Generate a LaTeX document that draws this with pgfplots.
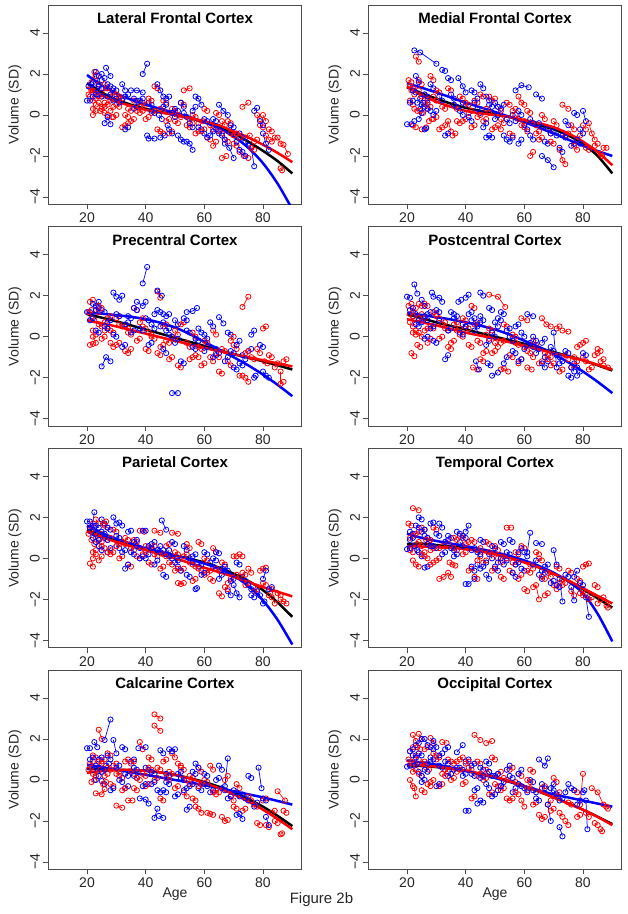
\documentclass[border=0pt]{standalone}
\usepackage{fontspec}
\setmainfont{Liberation Sans}
\usepackage{pgfplots}
\pgfplotsset{compat=1.18}
\definecolor{rR}{RGB}{255,0,0}
\definecolor{bB}{RGB}{0,0,255}
\pgfplotsset{
 panel/.style={scale only axis, width=253.4pt, height=199.3pt,
  xmin=6.8, xmax=93.2, ymin=-4.36, ymax=5.36,
  xtick={20,40,60,80}, xticklabels={20,40,60,80},
  ytick={-4,-2,0,2,4}, yticklabels={−4,−2,0,2,4},
  xtick pos=left, ytick pos=left,
  tick align=outside, major tick length=5pt,
  axis line style={black!70, line width=0.8pt},
  every tick/.style={black!70, line width=0.8pt},
  tick label style={font=\fontsize{14}{16}\selectfont, text=black!85},
  yticklabel style={rotate=90, anchor=south},
  ylabel={Volume (SD)},
  every axis y label/.style={at={(axis description cs:-0.1315,0.5)}, rotate=90, anchor=center, font=\fontsize{14}{16}\selectfont, text=black!85},
  every axis x label/.style={at={(axis description cs:0.5,-0.1254)}, anchor=center, font=\fontsize{14}{16}\selectfont, text=black!85},
  every axis title/.style={at={(axis description cs:0.5,1)}, anchor=north, inner sep=0pt, yshift=-7.5pt, font=\bfseries\fontsize{15}{18}\selectfont},
  unbounded coords=jump, clip=true, anchor=south west},
 dat/.style={mark=o, mark size=2.6pt, line width=0.7pt, mark options={line width=0.8pt}},
 fit/.style={line width=2.5pt, smooth, no markers}
}
\begin{document}
\begin{tikzpicture}
\path[use as bounding box] (0,0) rectangle (628pt,914pt);
% ---------- Panel 1 ----------
\begin{axis}[panel, at={(48.3pt,709.6pt)}, title={Lateral Frontal Cortex}]
\addplot[rR,dat] coordinates {(21,0.9)(22,0.7)(nan,nan)(21.5,1.6)(22.5,2.1)(nan,nan)(22,0.3)(23,0.5)(nan,nan)(23,1.9)(24,1.5)(nan,nan)(22,1.2)(23.5,1.0)(25,0.9)(nan,nan)(24,0.6)(25,0.4)(nan,nan)(24.5,0.2)(26,0.1)(nan,nan)(25,1.1)(26.5,1.3)(nan,nan)(26,0.6)(27,0.5)(28,0.7)(nan,nan)(27,0.0)(28.5,-0.1)(nan,nan)(28,0.9)(29,1.1)(nan,nan)(29,-0.1)(30,0.0)(nan,nan)(30,0.5)(31,0.4)(nan,nan)(31,0.9)(32,0.8)(nan,nan)(32,-0.6)(33,-0.5)(34,-0.4)(nan,nan)(34,0.3)(35,0.2)(nan,nan)(35,-0.3)(36,-0.2)(nan,nan)(36,0.7)(37.5,0.6)(nan,nan)(38,0.1)(39,0.2)(nan,nan)(39,0.6)(40,0.5)(nan,nan)(40,-0.2)(41,-0.1)(nan,nan)(42,0.1)(43,0.2)(nan,nan)(43,1.4)(44,1.3)(nan,nan)(44,-0.7)(45,-0.8)(46,-0.9)(nan,nan)(46,0.7)(47,0.6)(nan,nan)(48,-0.9)(49,-0.8)(nan,nan)(49,0.3)(50,0.2)(nan,nan)(50,-0.3)(51,-0.4)(nan,nan)(52,0.6)(53,0.5)(nan,nan)(53,1.2)(55,1.3)(nan,nan)(54,-0.5)(55,-0.6)(nan,nan)(56,0.0)(57,-0.1)(nan,nan)(57,-0.9)(58,-0.8)(nan,nan)(58,-0.4)(59.5,-0.3)(nan,nan)(60,0.3)(61,0.2)(nan,nan)(61,-1.1)(62,-1.2)(nan,nan)(62,-0.5)(63,-0.7)(nan,nan)(63,-1.5)(64,-1.3)(nan,nan)(64,0.1)(65,0.0)(nan,nan)(65,-0.8)(66,-0.9)(nan,nan)(66,-2.1)(67.5,-2.0)(nan,nan)(67,-1.2)(68,-1.3)(nan,nan)(68,-0.3)(69,-0.4)(nan,nan)(69,-0.9)(70,-1.0)(nan,nan)(70,-1.4)(71,-1.5)(nan,nan)(72,-1.8)(73.5,-2.0)(75,-2.1)(nan,nan)(73,0.4)(75,0.6)(nan,nan)(74,-1.1)(75.5,-1.0)(nan,nan)(77,-1.3)(78,-1.2)(nan,nan)(78,0.0)(79,-0.2)(nan,nan)(79,-0.5)(80,-0.6)(nan,nan)(80,0.0)(81,-0.3)(nan,nan)(81,-1.0)(82,-1.2)(nan,nan)(82,-0.7)(83,-0.8)(nan,nan)(83,-1.3)(84,-1.1)(nan,nan)(85,-1.1)(86,-1.4)(nan,nan)(86,-2.6)(86.5,-2.7)(nan,nan)(87,-1.45)(88.5,-1.9)};
\addplot[bB,dat] coordinates {(20,0.7)(21,0.7)(nan,nan)(22,1.6)(23,2.1)(nan,nan)(23,1.3)(24,1.9)(25,2.0)(nan,nan)(24,1.0)(25,0.9)(nan,nan)(25,1.7)(26,1.8)(nan,nan)(26,-0.4)(27,-0.1)(28,-0.45)(nan,nan)(26.5,2.3)(28,1.9)(nan,nan)(27,0.9)(28,1.0)(nan,nan)(29,1.3)(30,1.2)(nan,nan)(31,0.6)(32,0.7)(nan,nan)(32,1.5)(33,1.2)(nan,nan)(33,-0.7)(34,-0.6)(nan,nan)(35,1.2)(37,1.2)(39,1.1)(nan,nan)(36,0.3)(37,0.4)(nan,nan)(38,0.7)(39,0.8)(nan,nan)(39,2.0)(40.5,2.5)(nan,nan)(40.5,-1.0)(41,-1.15)(43,-1.15)(nan,nan)(41,0.6)(42,0.5)(nan,nan)(44,1.5)(45,1.2)(46,0.9)(nan,nan)(44.5,0.0)(45.5,-0.2)(nan,nan)(45,-1.1)(46.5,-1.0)(nan,nan)(47,0.8)(48,0.9)(nan,nan)(47.5,-0.5)(48,-0.7)(49,-0.9)(nan,nan)(50,0.3)(51,0.2)(nan,nan)(51,-1.0)(52,-1.2)(53,-1.3)(nan,nan)(53,0.1)(54,-0.1)(nan,nan)(54,-1.3)(55,-1.4)(56,-1.7)(nan,nan)(56,0.2)(57,0.4)(nan,nan)(57,0.9)(58,0.8)(59,0.5)(nan,nan)(58,-0.6)(59,-0.7)(nan,nan)(60,-0.2)(61,-0.3)(nan,nan)(62,-1.0)(63,-0.8)(nan,nan)(64,-0.7)(65,-0.9)(nan,nan)(65,0.5)(66.5,0.2)(68,0.0)(nan,nan)(67,-1.4)(68.5,-1.6)(70,-2.1)(nan,nan)(69,-0.5)(70,-0.6)(nan,nan)(71,-1.3)(72,-1.7)(nan,nan)(72,-0.9)(73,-1.1)(nan,nan)(74,-1.3)(75,-1.5)(nan,nan)(76,-1.6)(77,-2.5)(nan,nan)(77,0.2)(78,0.35)(nan,nan)(79,-0.3)(80,-0.5)(nan,nan)(80,-0.9)(81,-1.4)(82,-1.7)};
\addplot[rR,dat] coordinates {(20.5,1.0)(21.5,1.2)(nan,nan)(22,0.0)(23,0.2)(nan,nan)(23,0.8)(24,0.9)(nan,nan)(25,0.3)(26,0.4)(nan,nan)(26,1.5)(27,1.3)(nan,nan)(28,0.2)(29,0.4)(nan,nan)(30,1.0)(31,0.8)(nan,nan)(33,0.0)(34,-0.1)(nan,nan)(37,0.2)(38,0.4)(nan,nan)(41,0.8)(42,0.7)(nan,nan)(45,0.3)(46,0.2)(nan,nan)(47,-0.3)(48,-0.2)(nan,nan)(51,0.0)(52,-0.1)(nan,nan)(55,-0.2)(56,-0.4)(nan,nan)(59,-0.8)(60,-0.7)(nan,nan)(66,-0.3)(67,-0.5)(nan,nan)(71,-0.9)(72,-1.1)(nan,nan)(76,-1.6)(77,-1.7)};
\addplot[bB,dat] coordinates {(20.5,1.4)(21.5,1.5)(nan,nan)(22,0.9)(23,1.0)(nan,nan)(24,1.4)(25,1.3)(nan,nan)(27,1.5)(28,1.4)(nan,nan)(29,0.7)(30,0.8)(nan,nan)(33,0.9)(34,1.0)(nan,nan)(36,0.8)(37,0.7)(nan,nan)(42,0.2)(43,0.1)(nan,nan)(46,0.4)(47,0.5)(nan,nan)(49,0.1)(50,-0.1)(nan,nan)(52,0.6)(53,0.4)(nan,nan)(55,-0.4)(56,-0.6)(nan,nan)(60,-0.9)(61,-1.1)(nan,nan)(63,-0.2)(64,-0.3)(nan,nan)(66,-1.0)(67,-1.2)(nan,nan)(73,-1.8)(74,-2.0)};
\addplot[black,fit] coordinates {(20,1.55)(25,1.1)(30,0.75)(35,0.5)(40,0.3)(45,0.15)(50,0.0)(55,-0.15)(60,-0.35)(65,-0.6)(70,-0.9)(75,-1.3)(80,-1.75)(85,-2.25)(90,-2.85)};
\addplot[bB,fit] coordinates {(20,1.95)(25,1.45)(30,1.05)(35,0.75)(40,0.5)(45,0.3)(50,0.1)(55,-0.1)(60,-0.35)(65,-0.65)(70,-1.05)(75,-1.6)(80,-2.35)(85,-3.35)(90,-4.6)};
\addplot[rR,fit] coordinates {(20,1.35)(25,0.95)(30,0.65)(35,0.45)(40,0.25)(45,0.12)(50,0.0)(55,-0.15)(60,-0.3)(65,-0.5)(70,-0.8)(75,-1.1)(80,-1.45)(85,-1.85)(90,-2.3)};
\end{axis}
% ---------- Panel 2 ----------
\begin{axis}[panel, at={(368.3pt,709.6pt)}, title={Medial Frontal Cortex}]
\addplot[rR,dat] coordinates {(20.5,1.7)(21.5,1.6)(nan,nan)(21,0.7)(22,0.5)(nan,nan)(21.5,1.2)(22.5,1.0)(nan,nan)(22,-0.5)(23,-0.6)(nan,nan)(23,2.85)(24,2.6)(nan,nan)(24,1.7)(25,1.5)(nan,nan)(24.5,0.2)(25.5,0.1)(nan,nan)(25,-0.7)(26.5,-0.6)(nan,nan)(26,1.0)(27,0.8)(nan,nan)(27,0.3)(28,0.4)(nan,nan)(28,1.9)(29,1.7)(nan,nan)(29,-0.2)(30,-0.1)(nan,nan)(30,1.2)(31,1.1)(nan,nan)(31,-0.7)(32,-0.6)(nan,nan)(33,-0.5)(34,-0.3)(35,-0.8)(nan,nan)(34,1.3)(35,1.2)(nan,nan)(35.5,-1.0)(36.5,-0.9)(nan,nan)(36,0.5)(37,0.3)(nan,nan)(38,0.9)(39,0.8)(nan,nan)(39,-0.3)(40,-0.2)(nan,nan)(41,0.1)(42,0.2)(nan,nan)(42,-0.6)(43,-0.5)(nan,nan)(43,0.7)(44,0.6)(nan,nan)(45,1.0)(46,0.9)(nan,nan)(46,-0.3)(47,-0.2)(nan,nan)(48,0.9)(49,0.7)(50,0.8)(nan,nan)(49,-0.7)(50,-0.6)(nan,nan)(51,0.4)(52,0.2)(nan,nan)(52,-0.2)(53,-0.4)(nan,nan)(54,0.6)(55,0.5)(nan,nan)(55,-0.9)(56,-1.0)(nan,nan)(57,0.0)(58,-0.2)(nan,nan)(58,0.9)(59,0.6)(60,0.5)(nan,nan)(60,-0.6)(61,-0.8)(nan,nan)(61,0.2)(62,0.1)(nan,nan)(62,-2.0)(63,-1.8)(nan,nan)(63,-0.4)(64,-0.5)(nan,nan)(65,-1.2)(66,-1.1)(nan,nan)(66,0.0)(67,-0.2)(nan,nan)(68,-0.7)(69,-0.9)(nan,nan)(70,-0.3)(71,-0.5)(nan,nan)(72,-1.7)(73,-2.2)(74,-2.4)(nan,nan)(73,0.5)(75,0.3)(nan,nan)(74,-1.0)(75,-0.9)(nan,nan)(76,-0.5)(77,-0.7)(nan,nan)(78,-1.2)(79,-1.0)(nan,nan)(80,-0.5)(81,-0.7)(nan,nan)(81,-1.6)(82,-1.7)(nan,nan)(82,-0.4)(83,-0.9)(84,-1.2)(nan,nan)(84,-1.5)(85,-1.4)(nan,nan)(86,-1.9)(86.5,-2.0)(nan,nan)(87,-1.6)(88,-1.6)};
\addplot[bB,dat] coordinates {(20,-0.45)(21.5,-0.45)(22.5,-0.3)(nan,nan)(22.5,3.15)(24.5,3.05)(30,2.5)(nan,nan)(23,1.9)(24,1.6)(nan,nan)(23.5,0.6)(24.5,0.8)(nan,nan)(24,-0.2)(25,0.1)(nan,nan)(25,0.5)(26,0.4)(27,0.6)(nan,nan)(26,-0.7)(26.5,-0.65)(nan,nan)(27,0.3)(28,0.2)(nan,nan)(28,1.5)(29,1.3)(nan,nan)(31,0.9)(32,0.7)(nan,nan)(32,2.2)(33,2.15)(nan,nan)(33,-1.0)(34,-0.9)(nan,nan)(34,1.8)(35,1.7)(nan,nan)(36,0.5)(37,0.4)(nan,nan)(37.5,1.8)(39,1.4)(40,1.1)(nan,nan)(39,0.6)(40,0.5)(nan,nan)(41,-0.1)(42,-0.3)(nan,nan)(42,1.2)(43,1.1)(nan,nan)(44,0.3)(45,0.1)(nan,nan)(45,1.5)(46,1.3)(nan,nan)(46,-0.6)(47,-0.4)(nan,nan)(47,-1.1)(48,-1.0)(49,-1.1)(nan,nan)(48,0.5)(49,0.4)(nan,nan)(50,-0.2)(51,0.0)(nan,nan)(52,0.3)(53,0.5)(nan,nan)(53,-1.0)(54,-1.2)(nan,nan)(55,-1.3)(56,-1.1)(nan,nan)(56,0.0)(57,-0.3)(nan,nan)(57,1.2)(59,1.45)(61.5,1.35)(nan,nan)(58,-1.4)(59,-1.2)(nan,nan)(60,-0.5)(61,-0.7)(nan,nan)(62,-1.0)(63,-1.2)(nan,nan)(64,1.0)(66,0.8)(nan,nan)(65,-0.4)(66,-0.6)(nan,nan)(66,-2.0)(68,-2.2)(70,-2.55)(nan,nan)(67,-1.3)(68,-1.4)(nan,nan)(70,-0.8)(71,-1.0)(nan,nan)(72,-1.6)(73,-1.8)(nan,nan)(74,-0.3)(75,-0.5)(nan,nan)(76,-1.5)(77,-1.4)(nan,nan)(77,0.1)(78,0.0)(nan,nan)(79,-0.7)(80,-0.9)(nan,nan)(80,0.2)(81,-0.3)};
\addplot[rR,dat] coordinates {(21,1.4)(22,1.3)(nan,nan)(22.5,0.3)(23.5,0.2)(nan,nan)(24,1.2)(25,0.9)(nan,nan)(26,0.6)(27,0.5)(nan,nan)(27.5,-0.3)(28.5,-0.2)(nan,nan)(29,0.9)(30,0.7)(nan,nan)(32,0.4)(33,0.3)(nan,nan)(37,-0.3)(38,-0.4)(nan,nan)(40,0.6)(41,0.5)(nan,nan)(44,-0.1)(45,0.0)(nan,nan)(47,0.3)(48,0.1)(nan,nan)(51,-0.5)(52,-0.7)(nan,nan)(56,0.2)(57,0.3)(nan,nan)(59,-0.5)(60,-0.3)(nan,nan)(64,-0.9)(65,-0.8)(nan,nan)(69,-1.3)(70,-1.4)(nan,nan)(77,-1.5)(78,-1.7)};
\addplot[bB,dat] coordinates {(21,0.6)(22,0.7)(nan,nan)(22,1.2)(23,1.1)(nan,nan)(24.5,0.3)(25.5,0.6)(nan,nan)(26,1.0)(27,0.9)(nan,nan)(29,0.0)(30,0.2)(nan,nan)(35,1.0)(36,0.8)(nan,nan)(38,0.2)(39,0.0)(nan,nan)(43,0.6)(44,0.8)(nan,nan)(47,0.9)(48,0.7)(nan,nan)(50,0.6)(51,0.4)(nan,nan)(54,-0.2)(55,-0.4)(nan,nan)(58,0.2)(59,0.0)(nan,nan)(62,-0.2)(63,-0.4)(nan,nan)(68,-0.7)(69,-0.9)(nan,nan)(73,-1.0)(74,-1.1)(nan,nan)(78,-1.2)(79,-1.4)};
\addplot[black,fit] coordinates {(20,1.35)(25,1.05)(30,0.8)(35,0.55)(40,0.35)(45,0.2)(50,0.05)(55,-0.1)(60,-0.3)(65,-0.5)(70,-0.7)(75,-1.0)(80,-1.4)(85,-2.0)(90,-2.85)};
\addplot[bB,fit] coordinates {(20,1.55)(30,1.1)(40,0.6)(50,0.15)(60,-0.35)(70,-0.9)(80,-1.5)(90,-2.0)};
\addplot[rR,fit] coordinates {(20,1.4)(25,0.95)(30,0.65)(35,0.4)(40,0.2)(45,0.08)(50,0.0)(55,-0.1)(60,-0.25)(65,-0.4)(70,-0.6)(75,-0.9)(80,-1.3)(85,-1.8)(90,-2.45)};
\end{axis}
% ---------- Panel 3 ----------
\begin{axis}[panel, at={(48.3pt,487.9pt)}, title={Precentral Cortex}]
\addplot[rR,dat] coordinates {(21,1.7)(22,1.8)(nan,nan)(21,-0.4)(22,-0.35)(nan,nan)(21.5,0.9)(22.5,0.8)(nan,nan)(22,0.3)(23,0.1)(nan,nan)(23,1.3)(24,1.2)(nan,nan)(24,0.6)(25,0.5)(26,0.7)(nan,nan)(25,-0.1)(26,0.0)(nan,nan)(27,0.9)(28,1.0)(nan,nan)(28,0.3)(29,0.2)(nan,nan)(30,-0.4)(31,-0.3)(nan,nan)(31,0.6)(32,0.5)(nan,nan)(33,-0.7)(34,-0.8)(35,-0.6)(nan,nan)(34,0.2)(35,0.1)(nan,nan)(36,1.4)(37,1.3)(nan,nan)(37,-0.2)(38,-0.1)(nan,nan)(39,0.5)(40,0.4)(nan,nan)(40,-0.6)(41,-0.7)(nan,nan)(42,0.0)(43,-0.1)(nan,nan)(44,2.2)(45,1.9)(nan,nan)(45,-0.5)(46,-0.4)(nan,nan)(46,0.5)(47,0.6)(nan,nan)(48,-1.1)(49,-1.0)(nan,nan)(49,0.0)(50,-0.1)(nan,nan)(51,-1.4)(52,-1.5)(nan,nan)(52,0.6)(53,0.7)(nan,nan)(54,-0.3)(55,-0.5)(nan,nan)(56,0.2)(57,0.0)(nan,nan)(57,-0.9)(58,-1.0)(nan,nan)(59,-1.4)(60,-1.3)(nan,nan)(60,-0.2)(61,-0.3)(nan,nan)(62,-1.0)(63,-1.2)(nan,nan)(63,0.3)(64,0.1)(nan,nan)(65,-1.7)(66,-1.8)(nan,nan)(66,-0.6)(67,-0.7)(nan,nan)(68,-1.2)(69,-1.4)(nan,nan)(70,-0.4)(71,-0.6)(nan,nan)(72,-1.9)(73,-1.9)(nan,nan)(73,1.45)(75,1.95)(nan,nan)(74,-2.0)(75,-2.2)(nan,nan)(76,-1.0)(77,-1.1)(nan,nan)(78,-0.6)(79,-0.8)(nan,nan)(80,0.4)(81,0.5)(nan,nan)(80.5,-1.2)(81.5,-1.3)(nan,nan)(82,-0.9)(83,-1.0)(nan,nan)(84,-1.5)(85,-1.3)(nan,nan)(86,-1.7)(86,-2.3)(87,-2.2)(nan,nan)(87,-1.2)(88,-1.1)};
\addplot[bB,dat] coordinates {(20,1.2)(21,1.2)(nan,nan)(22,1.6)(23,1.5)(24,1.7)(nan,nan)(23,0.3)(24,0.2)(nan,nan)(25,-1.45)(26.5,-1.0)(28,-1.2)(nan,nan)(25,1.3)(26,1.2)(nan,nan)(27,0.7)(28,0.8)(nan,nan)(29,2.15)(30,1.95)(nan,nan)(31,1.8)(32,2.0)(nan,nan)(29,0.1)(30,0.0)(nan,nan)(32,-0.5)(33,-0.4)(nan,nan)(34,1.0)(35,0.9)(nan,nan)(35,0.2)(36,0.3)(nan,nan)(37,1.7)(39,1.5)(40,1.7)(nan,nan)(39,2.6)(40.5,3.4)(nan,nan)(40,0.9)(41,0.8)(nan,nan)(41,-0.4)(42,-0.3)(nan,nan)(43,1.1)(44,1.3)(nan,nan)(44,2.25)(45.5,2.0)(nan,nan)(45,0.5)(46,0.7)(nan,nan)(46,-0.6)(47,-0.8)(nan,nan)(47,1.0)(48,1.1)(nan,nan)(48,0.1)(49,0.0)(nan,nan)(49,-2.75)(51,-2.75)(nan,nan)(50,0.8)(51,0.6)(nan,nan)(52,-1.2)(53,-1.3)(nan,nan)(54,1.2)(56,1.25)(57.5,1.4)(nan,nan)(54,0.3)(55,0.2)(nan,nan)(56,-0.5)(57,-0.6)(nan,nan)(58,0.4)(59,0.2)(nan,nan)(60,-0.7)(61,-0.5)(nan,nan)(62,0.7)(63,0.5)(nan,nan)(64,-0.6)(65,-0.8)(nan,nan)(65,0.95)(66.5,0.65)(nan,nan)(67,-1.2)(68,-1.0)(nan,nan)(68,0.2)(69,0.1)(nan,nan)(70,-1.5)(71,-1.6)(nan,nan)(71,-0.4)(72,-0.2)(nan,nan)(73,-0.9)(74,-1.1)(nan,nan)(75,-0.7)(76,-0.6)(nan,nan)(76,0.1)(77,0.3)(nan,nan)(77,-2.0)(77.5,-1.9)(nan,nan)(79,-0.4)(80,-0.5)(nan,nan)(80,-1.7)(81,-1.9)(82,-2.0)};
\addplot[rR,dat] coordinates {(20.5,1.2)(21.5,1.3)(nan,nan)(22,0.0)(23,-0.3)(nan,nan)(24,1.5)(25,1.4)(nan,nan)(26,0.3)(27,0.4)(nan,nan)(28,-0.3)(29,-0.5)(nan,nan)(30,0.9)(31,1.0)(nan,nan)(33,0.5)(34,0.4)(nan,nan)(38,0.7)(39,0.9)(nan,nan)(41,0.2)(42,0.1)(nan,nan)(44,-0.8)(45,-0.9)(nan,nan)(47,-0.2)(48,-0.3)(nan,nan)(50,0.3)(51,0.1)(nan,nan)(55,-1.1)(56,-1.0)(nan,nan)(58,-0.5)(59,-0.6)(nan,nan)(64,-0.8)(65,-1.0)(nan,nan)(69,-0.2)(70,0.0)(nan,nan)(74,-0.8)(75,-0.7)};
\addplot[bB,dat] coordinates {(21,0.8)(22,0.9)(nan,nan)(23,1.3)(24,1.4)(nan,nan)(26,0.5)(27,0.4)(nan,nan)(30,1.1)(31,1.0)(nan,nan)(33,0.6)(34,0.7)(nan,nan)(36,1.4)(37,1.3)(nan,nan)(38,0.4)(39,0.3)(nan,nan)(42,0.6)(43,0.4)(nan,nan)(45,1.2)(46,1.1)(nan,nan)(47,0.3)(48,0.4)(nan,nan)(50,-0.3)(51,-0.1)(nan,nan)(53,0.9)(54,0.8)(nan,nan)(57,-0.1)(58,-0.2)(nan,nan)(60,0.1)(61,-0.1)(nan,nan)(63,-1.0)(64,-0.9)(nan,nan)(69,-0.7)(70,-0.8)(nan,nan)(72,-1.3)(73,-1.4)};
\addplot[black,fit] coordinates {(20,1.1)(30,0.75)(40,0.35)(50,-0.05)(60,-0.45)(70,-0.85)(80,-1.2)(90,-1.6)};
\addplot[bB,fit] coordinates {(20,1.15)(25,1.12)(30,1.05)(35,0.97)(40,0.85)(45,0.68)(50,0.45)(55,0.13)(60,-0.25)(65,-0.62)(70,-1.0)(75,-1.4)(80,-1.85)(85,-2.35)(90,-2.9)};
\addplot[rR,fit] coordinates {(20,0.8)(30,0.5)(40,0.15)(50,-0.2)(60,-0.55)(70,-0.85)(80,-1.15)(90,-1.45)};
\end{axis}
% ---------- Panel 4 ----------
\begin{axis}[panel, at={(368.3pt,487.9pt)}, title={Postcentral Cortex}]
\addplot[rR,dat] coordinates {(20.5,1.5)(21.5,1.6)(nan,nan)(21,0.7)(22,0.5)(nan,nan)(21.5,-0.8)(22.5,-0.95)(nan,nan)(22,1.2)(23,1.4)(nan,nan)(23,0.1)(24,0.2)(25,0.0)(nan,nan)(23.5,-0.4)(24.5,-0.5)(nan,nan)(24,1.6)(25,1.5)(nan,nan)(25,0.8)(26,0.9)(nan,nan)(26,1.6)(27,1.5)(nan,nan)(27,-0.3)(28,-0.1)(nan,nan)(28,0.5)(29,0.4)(nan,nan)(30,1.0)(31,0.9)(nan,nan)(31,-0.1)(32,0.0)(nan,nan)(33,0.4)(34,0.3)(nan,nan)(35,-0.3)(36,-0.2)(nan,nan)(36,0.6)(37,0.7)(nan,nan)(38,0.1)(39,0.0)(nan,nan)(40,0.5)(41,0.4)(nan,nan)(41,-0.4)(42,-0.5)(nan,nan)(42,1.5)(43,1.4)(nan,nan)(42.5,-1.5)(44,-1.6)(nan,nan)(44,-0.2)(45,-0.3)(nan,nan)(46,-0.8)(47,-0.7)(nan,nan)(48,2.05)(51,1.95)(53.5,1.45)(nan,nan)(48,0.4)(49,0.3)(nan,nan)(49,-0.8)(50,-0.7)(nan,nan)(50,-0.3)(51,-0.5)(nan,nan)(52,-1.6)(53,-1.55)(54.5,-1.7)(nan,nan)(53,0.6)(54,0.5)(nan,nan)(55,-0.9)(56,-1.0)(nan,nan)(57,-0.3)(58,-0.4)(nan,nan)(58,-1.3)(59,-1.1)(nan,nan)(59,0.9)(61,0.8)(nan,nan)(60,-0.5)(61,-0.7)(nan,nan)(61,-1.5)(62.5,-1.6)(nan,nan)(63,-0.2)(64,-0.4)(nan,nan)(65,-1.3)(66,-1.2)(nan,nan)(66,0.9)(67.5,0.6)(69,0.5)(nan,nan)(67,-0.8)(68,-0.9)(nan,nan)(69,-1.4)(70,-1.3)(nan,nan)(71,0.4)(72,0.5)(nan,nan)(72,-1.7)(73,-1.6)(nan,nan)(73,0.3)(75,0.25)(nan,nan)(74,-0.9)(75,-1.1)(nan,nan)(76,-1.5)(77,-1.4)(nan,nan)(78,-0.5)(79,-0.4)(nan,nan)(80,-0.3)(81,-0.2)(nan,nan)(80,-1.0)(81,-1.2)(nan,nan)(82,-1.6)(83,-1.5)(nan,nan)(84,-0.9)(85,-0.8)(nan,nan)(85,-0.6)(86,-0.7)(nan,nan)(86,-1.2)(87,-1.1)(nan,nan)(87,-1.4)(88.5,-1.5)};
\addplot[bB,dat] coordinates {(20,1.95)(21,1.9)(nan,nan)(22,1.0)(23,1.1)(nan,nan)(22.5,2.55)(23.5,2.1)(nan,nan)(24,0.5)(25,0.7)(nan,nan)(25,1.8)(26,1.5)(nan,nan)(26,-0.1)(27,0.0)(nan,nan)(27,1.1)(28,1.2)(nan,nan)(28.5,2.15)(29,1.95)(31,1.9)(32,1.7)(nan,nan)(29,-0.2)(30,-0.3)(nan,nan)(31,0.8)(32,0.6)(nan,nan)(33,-1.1)(34,-0.9)(nan,nan)(34,0.3)(35,0.4)(nan,nan)(36,0.9)(37,1.0)(nan,nan)(37.5,1.7)(38.5,1.8)(nan,nan)(39,0.6)(40,0.5)(nan,nan)(40,1.9)(41,2.05)(nan,nan)(41,1.1)(42,1.2)(nan,nan)(43,0.3)(44,0.5)(nan,nan)(43.5,-1.2)(44.5,-1.6)(nan,nan)(45,2.15)(46,2.0)(nan,nan)(45,1.0)(46,0.8)(nan,nan)(47,-0.4)(48,-0.2)(nan,nan)(47.5,-1.3)(48.5,-1.4)(nan,nan)(48,1.4)(49,1.3)(nan,nan)(49,-1.9)(51,-1.75)(nan,nan)(50,0.7)(51,0.5)(nan,nan)(52,1.2)(53,1.1)(nan,nan)(53,-1.3)(54,-1.0)(nan,nan)(54,0.3)(55,0.4)(nan,nan)(56,-0.7)(57,-0.8)(nan,nan)(57,0.5)(58,0.6)(nan,nan)(58,-1.2)(59,-1.1)(nan,nan)(59,0.2)(60,0.0)(nan,nan)(61,1.1)(63,1.0)(nan,nan)(62,-0.3)(63,-0.5)(nan,nan)(64,-0.8)(65,-0.6)(nan,nan)(66,-0.3)(67,-0.1)(nan,nan)(67,-1.0)(68,-1.2)(nan,nan)(69,-0.5)(70,-0.7)(nan,nan)(70,0.2)(71,-1.5)(nan,nan)(72,-1.3)(73,-1.2)(nan,nan)(74,-0.7)(75,-0.8)(nan,nan)(75,-1.9)(76,-2.0)(nan,nan)(77,-1.3)(78,-1.5)(nan,nan)(78,-1.9)(79,-1.7)(nan,nan)(80,-0.8)(81,-0.9)};
\addplot[rR,dat] coordinates {(21,1.1)(22,1.0)(nan,nan)(22,0.2)(23,0.3)(nan,nan)(24,0.9)(25,1.1)(nan,nan)(26,0.3)(27,0.4)(nan,nan)(29,1.2)(30,1.1)(nan,nan)(32,0.6)(33,0.7)(nan,nan)(34,-0.5)(35,-0.6)(nan,nan)(37,0.3)(38,0.4)(nan,nan)(39,0.9)(40,0.8)(nan,nan)(43,0.6)(44,0.7)(nan,nan)(45,-1.1)(46,-1.2)(nan,nan)(47,0.1)(48,-0.1)(nan,nan)(52,-0.3)(53,-0.2)(nan,nan)(56,0.1)(57,0.0)(nan,nan)(62,-0.8)(63,-1.0)(nan,nan)(68,-1.1)(69,-1.0)(nan,nan)(77,-1.0)(78,-1.2)};
\addplot[bB,dat] coordinates {(21,1.3)(22,1.4)(nan,nan)(23,0.6)(24,0.8)(nan,nan)(26,1.0)(27,0.8)(nan,nan)(28,0.4)(29,0.5)(nan,nan)(30,1.3)(31,1.2)(nan,nan)(35,1.2)(36,1.1)(nan,nan)(38,0.2)(39,0.1)(nan,nan)(42,0.8)(43,0.9)(nan,nan)(44,0.6)(45,0.7)(nan,nan)(49,0.2)(50,0.0)(nan,nan)(51,0.9)(52,0.8)(nan,nan)(55,0.0)(56,-0.2)(nan,nan)(60,-0.6)(61,-0.4)(nan,nan)(63,0.0)(64,-0.2)(nan,nan)(66,-1.3)(67,-1.5)(nan,nan)(71,-0.9)(72,-1.0)(nan,nan)(76,-1.5)(77,-1.7)};
\addplot[black,fit] coordinates {(20,1.1)(30,0.7)(40,0.35)(50,0.0)(60,-0.35)(70,-0.75)(80,-1.15)(90,-1.65)};
\addplot[bB,fit] coordinates {(20,1.15)(25,1.06)(30,0.95)(35,0.84)(40,0.7)(45,0.54)(50,0.35)(55,0.1)(60,-0.2)(65,-0.5)(70,-0.85)(75,-1.25)(80,-1.7)(85,-2.2)(90,-2.75)};
\addplot[rR,fit] coordinates {(20,0.85)(30,0.55)(40,0.2)(50,-0.1)(60,-0.45)(70,-0.8)(80,-1.15)(90,-1.6)};
\end{axis}
% ---------- Panel 5 ----------
\begin{axis}[panel, at={(48.3pt,266.2pt)}, title={Parietal Cortex}]
\addplot[rR,dat] coordinates {(21,-0.25)(22,-0.4)(nan,nan)(21,1.5)(22,1.7)(nan,nan)(21.5,0.9)(22.5,0.7)(nan,nan)(22,0.3)(23,0.4)(nan,nan)(23,1.9)(24,1.7)(nan,nan)(23.5,1.1)(24.5,1.2)(nan,nan)(24,-0.1)(25,0.1)(nan,nan)(25,0.6)(26,0.5)(nan,nan)(26,1.6)(27,1.5)(nan,nan)(27,0.9)(28,1.0)(nan,nan)(28,0.2)(29,0.3)(nan,nan)(29,1.4)(30,1.3)(nan,nan)(31,0.0)(32,0.1)(nan,nan)(32,0.8)(33,0.7)(nan,nan)(34,-0.3)(35,-0.4)(nan,nan)(35,0.5)(36,0.4)(nan,nan)(37,0.1)(38,0.0)(nan,nan)(38,1.35)(39.5,1.3)(nan,nan)(40,0.6)(41,0.5)(nan,nan)(41,-0.2)(42,-0.3)(nan,nan)(43,1.35)(45,1.25)(nan,nan)(43,0.2)(44,0.1)(nan,nan)(45,-0.5)(46,-0.4)(nan,nan)(47,0.6)(48,0.7)(nan,nan)(48,-0.2)(49,-0.3)(nan,nan)(49,1.25)(51,1.2)(nan,nan)(50,0.3)(51,0.2)(nan,nan)(51,-1.2)(52,-1.25)(53,-1.2)(nan,nan)(52,-0.6)(53,-0.5)(nan,nan)(54,0.7)(55,0.5)(nan,nan)(55,-0.2)(56,-0.3)(nan,nan)(56,-1.1)(57,-1.0)(nan,nan)(58,0.8)(59,0.7)(nan,nan)(59,-0.6)(60,-0.8)(nan,nan)(60,0.0)(61,-0.1)(nan,nan)(62,-1.0)(63,-1.1)(nan,nan)(63,0.5)(64,0.3)(nan,nan)(64,-0.5)(65,-0.6)(nan,nan)(65,-1.7)(66,-1.85)(nan,nan)(66,-0.2)(67,-0.3)(nan,nan)(68,-1.2)(69,-1.0)(nan,nan)(70,0.1)(71,0.1)(nan,nan)(71,-0.8)(72,-0.9)(nan,nan)(72,0.2)(73,0.1)(nan,nan)(74,-1.3)(75,-1.2)(nan,nan)(75,-0.5)(76,-0.7)(nan,nan)(77,-1.6)(78,-1.5)(nan,nan)(79,-0.6)(80,-0.5)(81,-0.45)(nan,nan)(80,-1.2)(81,-1.3)(nan,nan)(82,-1.8)(83,-1.9)(nan,nan)(83,-1.5)(84,-2.2)(nan,nan)(85,-1.7)(86,-1.8)(nan,nan)(86,-2.0)(87,-2.1)(88,-2.2)};
\addplot[bB,dat] coordinates {(20,1.8)(21,1.8)(nan,nan)(21.5,1.3)(22.5,2.25)(nan,nan)(22,1.0)(23,1.2)(nan,nan)(23,1.6)(24,1.5)(nan,nan)(24,0.6)(25,0.4)(nan,nan)(25,1.9)(26,1.7)(nan,nan)(26,1.0)(27,0.9)(nan,nan)(27,0.3)(28,0.5)(nan,nan)(29,2.0)(30,1.7)(nan,nan)(30,0.6)(31,0.5)(nan,nan)(31,1.75)(32,1.6)(nan,nan)(33,-0.5)(34,-0.3)(nan,nan)(34,1.3)(35,1.35)(nan,nan)(35,0.3)(36,0.2)(nan,nan)(37,0.6)(38,0.5)(nan,nan)(39,1.35)(40,1.35)(nan,nan)(40,0.0)(41,0.2)(nan,nan)(42,0.7)(43,0.8)(nan,nan)(43,-0.3)(44,-0.1)(nan,nan)(45,0.3)(46,0.4)(nan,nan)(45.5,1.85)(47,1.4)(nan,nan)(46,-0.8)(47,-0.9)(nan,nan)(48,0.1)(49,0.0)(nan,nan)(49,0.8)(50,0.7)(nan,nan)(51,-0.4)(52,-0.6)(nan,nan)(53,0.6)(54,0.4)(nan,nan)(54,-0.8)(55,-0.9)(nan,nan)(56,0.1)(57,0.2)(nan,nan)(57,-1.5)(57.5,-1.45)(nan,nan)(58,-0.4)(59,-0.3)(nan,nan)(60,0.3)(61,0.2)(nan,nan)(62,-0.2)(63,-0.4)(nan,nan)(64,0.3)(65,0.25)(nan,nan)(65,-1.0)(66,-0.8)(nan,nan)(67,-0.4)(68,-0.6)(nan,nan)(68,-1.6)(69,-1.8)(nan,nan)(70,-1.3)(71,-1.7)(72,-1.9)(nan,nan)(71,-0.2)(72,-0.3)(nan,nan)(73,-0.9)(74,-1.1)(nan,nan)(75,-1.3)(76,-1.5)(nan,nan)(76,-1.8)(77,-1.9)(nan,nan)(78,-1.6)(79,-1.8)(nan,nan)(80,-2.2)(80.5,-2.1)(nan,nan)(80,-1.0)(81,-0.6)(nan,nan)(82,-1.5)(83,-1.4)};
\addplot[rR,dat] coordinates {(20.5,1.2)(21.5,1.4)(nan,nan)(22,0.0)(23,0.2)(nan,nan)(24,0.9)(25,0.8)(nan,nan)(25.5,1.7)(26.5,1.8)(nan,nan)(27,0.3)(28,0.4)(nan,nan)(30,0.6)(31,0.7)(nan,nan)(33,1.0)(34,0.9)(nan,nan)(36,0.9)(37,0.8)(nan,nan)(39,0.2)(40,0.3)(nan,nan)(42,0.5)(43,0.6)(nan,nan)(46,0.2)(47,0.1)(nan,nan)(50,-0.6)(51,-0.5)(nan,nan)(53,0.1)(54,0.2)(nan,nan)(57,-0.4)(58,-0.5)(nan,nan)(61,-0.7)(62,-0.6)(nan,nan)(67,-1.4)(68,-1.5)(nan,nan)(73,-0.7)(74,-0.8)};
\addplot[bB,dat] coordinates {(21,1.5)(22,1.6)(nan,nan)(23,0.8)(24,0.9)(nan,nan)(25,1.3)(26,1.2)(nan,nan)(27,1.5)(28,1.4)(nan,nan)(30,1.1)(31,1.0)(nan,nan)(32,0.3)(33,0.4)(nan,nan)(36,0.8)(37,0.9)(nan,nan)(38,0.0)(39,0.1)(nan,nan)(41,0.6)(42,0.5)(nan,nan)(44,0.4)(45,0.6)(nan,nan)(47,0.2)(48,0.4)(nan,nan)(50,-0.2)(51,-0.1)(nan,nan)(55,0.0)(56,-0.2)(nan,nan)(59,-0.8)(60,-0.7)(nan,nan)(63,0.0)(64,-0.1)(nan,nan)(66,-0.5)(67,-0.6)(nan,nan)(69,-1.1)(70,-1.0)};
\addplot[black,fit] coordinates {(20,1.4)(25,1.1)(30,0.85)(35,0.63)(40,0.45)(45,0.3)(50,0.15)(55,-0.02)(60,-0.2)(65,-0.45)(70,-0.75)(75,-1.1)(80,-1.55)(85,-2.15)(90,-2.85)};
\addplot[bB,fit] coordinates {(20,1.6)(25,1.25)(30,0.95)(35,0.72)(40,0.5)(45,0.32)(50,0.15)(55,-0.05)(60,-0.25)(65,-0.5)(70,-0.85)(75,-1.35)(80,-2.05)(85,-3.0)(90,-4.2)};
\addplot[rR,fit] coordinates {(20,1.3)(30,0.8)(40,0.4)(50,0.0)(60,-0.45)(70,-0.9)(80,-1.4)(90,-1.85)};
\end{axis}
% ---------- Panel 6 ----------
\begin{axis}[panel, at={(368.3pt,266.2pt)}, title={Temporal Cortex}]
\addplot[rR,dat] coordinates {(20.5,1.7)(21.5,1.6)(nan,nan)(21,0.4)(22,0.3)(nan,nan)(22,-0.1)(23,-0.3)(24,-0.4)(nan,nan)(22,2.45)(24,2.35)(nan,nan)(23,1.2)(24,1.3)(nan,nan)(24,0.8)(25,0.6)(nan,nan)(25,1.5)(26,1.4)(nan,nan)(26,0.1)(27,0.0)(nan,nan)(27,1.0)(28,0.9)(nan,nan)(28,0.4)(29,0.5)(nan,nan)(29,1.5)(30,1.4)(nan,nan)(30,-0.1)(31,0.0)(nan,nan)(31,-1.0)(32.5,-0.9)(34,-0.7)(35,-0.9)(nan,nan)(33,0.8)(34,0.7)(nan,nan)(34.5,-0.2)(35.5,-0.3)(36.5,-0.35)(nan,nan)(36,0.5)(37,0.4)(nan,nan)(38,1.1)(39,1.0)(nan,nan)(39,0.2)(40,0.3)(nan,nan)(41,-0.6)(42,-0.5)(nan,nan)(42,0.9)(43,0.8)(nan,nan)(43,-0.9)(44,-1.0)(nan,nan)(44,0.4)(45,0.5)(nan,nan)(46,-0.2)(47,-0.1)(nan,nan)(47,0.8)(48,0.7)(nan,nan)(49,-0.6)(50,-0.5)(nan,nan)(50,0.6)(51,0.4)(nan,nan)(52,-0.9)(53,-1.0)(nan,nan)(53,0.1)(54,0.0)(nan,nan)(54,1.5)(55.5,1.5)(nan,nan)(55,-0.6)(56,-0.7)(nan,nan)(57,0.3)(58,0.2)(nan,nan)(58,-1.0)(59,-0.8)(nan,nan)(59,0.6)(60,0.5)(nan,nan)(60,-1.5)(61,-1.6)(nan,nan)(62,-0.3)(63,-0.5)(nan,nan)(63,-1.4)(64,-1.3)(65,-2.0)(nan,nan)(65,0.0)(66,-0.1)(nan,nan)(67,-1.8)(68,-1.7)(nan,nan)(68,-0.7)(69,-0.9)(nan,nan)(70,-1.3)(71,-1.5)(nan,nan)(71,-0.4)(72,-0.5)(nan,nan)(73,-1.0)(74,-1.2)(nan,nan)(75,-0.6)(76,-0.7)(nan,nan)(76,-1.6)(77,-1.8)(nan,nan)(78,-1.0)(79,-1.1)(nan,nan)(80,-0.4)(81,-0.3)(82,-0.25)(nan,nan)(80,-1.5)(81,-1.7)(nan,nan)(82,-2.0)(83,-1.9)(nan,nan)(84,-1.3)(85,-1.4)(nan,nan)(85,-2.2)(86,-2.0)(nan,nan)(87,-1.9)(88,-2.3)(88.5,-2.4)};
\addplot[bB,dat] coordinates {(20,0.45)(21,0.5)(nan,nan)(21,1.3)(22,1.2)(nan,nan)(23,1.6)(24,1.5)(nan,nan)(24,2.0)(25,1.9)(nan,nan)(24,0.3)(25,0.1)(nan,nan)(26,-0.45)(27,-0.4)(nan,nan)(26,1.1)(27,1.0)(nan,nan)(28,1.7)(29,1.75)(nan,nan)(29,0.6)(30,0.5)(nan,nan)(31,1.7)(32,1.5)(nan,nan)(32,0.2)(33,0.3)(nan,nan)(34,1.1)(35,1.0)(nan,nan)(35,0.5)(36,0.4)(nan,nan)(37,1.3)(38,1.2)(nan,nan)(38,0.8)(39,0.6)(nan,nan)(40,-1.25)(41,-1.25)(43,-1.0)(nan,nan)(40,1.3)(41,1.6)(nan,nan)(42,0.4)(43,0.5)(nan,nan)(44,-0.3)(45,-0.5)(nan,nan)(45,0.9)(46,0.8)(nan,nan)(46,-0.4)(47,-0.2)(nan,nan)(47,-0.8)(48,-1.0)(nan,nan)(48,0.2)(49,0.0)(nan,nan)(50,-0.4)(51,-0.6)(nan,nan)(52,0.8)(53,0.7)(nan,nan)(53,-0.3)(54,-0.1)(nan,nan)(55,0.9)(56,0.8)(nan,nan)(56,-0.7)(57,-0.9)(nan,nan)(58,0.3)(59,0.5)(nan,nan)(59,-0.5)(60,-0.6)(nan,nan)(61,0.3)(62,1.25)(nan,nan)(63,-0.3)(64,-0.1)(nan,nan)(64,0.75)(66,0.7)(nan,nan)(65,-0.8)(66,-1.0)(nan,nan)(67,-0.4)(68,-0.3)(nan,nan)(69,-1.2)(70,-1.1)(nan,nan)(70,0.4)(71,-0.3)(nan,nan)(72,-1.0)(73,-2.1)(nan,nan)(74,-0.8)(75,-0.9)(nan,nan)(76,-1.4)(77,-2.05)(nan,nan)(77,-0.9)(78,-0.6)(nan,nan)(79,-1.2)(80,-1.3)(nan,nan)(81,-1.9)(82,-2.85)};
\addplot[rR,dat] coordinates {(21,1.0)(22,1.1)(nan,nan)(22.5,0.6)(23.5,0.7)(nan,nan)(25,0.2)(26,0.3)(nan,nan)(26.5,0.9)(27.5,0.8)(nan,nan)(28,-0.3)(29,-0.2)(nan,nan)(31,0.5)(32,0.6)(nan,nan)(36,1.0)(37,0.9)(nan,nan)(40,0.7)(41,0.8)(nan,nan)(44,-0.1)(45,0.1)(nan,nan)(48,0.3)(49,0.2)(nan,nan)(51,0.0)(52,-0.2)(nan,nan)(56,-0.2)(57,-0.3)(nan,nan)(61,-0.6)(62,-0.7)(nan,nan)(64,0.3)(65,0.2)(nan,nan)(66,-0.9)(67,-1.0)(nan,nan)(72,-1.2)(73,-1.3)(nan,nan)(79,-1.7)(80,-1.8)};
\addplot[bB,dat] coordinates {(21,0.9)(22,1.0)(nan,nan)(22.5,0.6)(23.5,0.4)(nan,nan)(25,1.3)(26,1.4)(nan,nan)(27,0.7)(28,0.6)(nan,nan)(30,1.2)(31,1.1)(nan,nan)(33,0.8)(34,0.9)(nan,nan)(36,0.1)(37,0.2)(nan,nan)(39,1.1)(40,1.0)(nan,nan)(42,-0.4)(43,-0.6)(nan,nan)(44,0.3)(45,0.2)(nan,nan)(49,0.6)(50,0.5)(nan,nan)(51,-0.2)(52,0.0)(nan,nan)(54,0.3)(55,0.2)(nan,nan)(57,-0.3)(58,-0.2)(nan,nan)(60,0.3)(61,0.1)(nan,nan)(66,-0.6)(67,-0.7)(nan,nan)(71,-1.3)(72,-1.4)};
\addplot[black,fit] coordinates {(20,0.7)(25,0.72)(30,0.65)(35,0.58)(40,0.5)(45,0.38)(50,0.25)(55,0.06)(60,-0.15)(65,-0.42)(70,-0.75)(75,-1.1)(80,-1.5)(85,-1.95)(90,-2.4)};
\addplot[bB,fit] coordinates {(20,1.2)(25,1.0)(30,0.85)(35,0.72)(40,0.6)(45,0.46)(50,0.3)(55,0.12)(60,-0.1)(65,-0.37)(70,-0.7)(75,-1.12)(80,-1.7)(85,-2.7)(90,-4.05)};
\addplot[rR,fit] coordinates {(20,0.6)(25,0.58)(30,0.55)(35,0.51)(40,0.45)(45,0.34)(50,0.2)(55,0.02)(60,-0.2)(65,-0.45)(70,-0.75)(75,-1.08)(80,-1.45)(85,-1.83)(90,-2.2)};
\end{axis}
% ---------- Panel 7 ----------
\begin{axis}[panel, at={(48.3pt,44.6pt)}, title={Calcarine Cortex}, xlabel={Age}]
\addplot[rR,dat] coordinates {(21,0.8)(22,0.9)(nan,nan)(21.5,-0.1)(22.5,0.0)(nan,nan)(22,1.2)(23,1.1)(nan,nan)(23,-0.65)(25,-0.7)(26,-0.45)(nan,nan)(23.5,0.4)(24.5,0.5)(nan,nan)(24,2.45)(25,2.0)(nan,nan)(25,0.9)(26,1.0)(nan,nan)(26,0.2)(27,0.3)(nan,nan)(27,1.3)(28,1.2)(nan,nan)(28,-0.2)(29,-0.3)(nan,nan)(29,0.7)(30,0.8)(nan,nan)(30,-1.25)(32,-1.35)(nan,nan)(31,0.2)(32,0.1)(nan,nan)(33,0.9)(34,1.0)(nan,nan)(34,-1.0)(35.5,-1.0)(nan,nan)(35,0.4)(36,0.3)(nan,nan)(36,-0.4)(37,-0.5)(nan,nan)(38,1.85)(39,1.5)(nan,nan)(39,0.3)(40,0.2)(nan,nan)(40,-0.3)(41,-0.2)(nan,nan)(41,1.1)(42,1.0)(nan,nan)(43,3.2)(45,3.0)(nan,nan)(43,2.65)(45,2.4)(nan,nan)(43,0.0)(44,0.1)(nan,nan)(45,-0.9)(46,-1.0)(nan,nan)(46,0.9)(47,1.0)(nan,nan)(48,0.4)(49,0.3)(nan,nan)(49,1.3)(50,1.1)(nan,nan)(50,-0.4)(51,-0.3)(nan,nan)(52,0.6)(53,0.5)(nan,nan)(53,-0.6)(54,-0.8)(nan,nan)(55,0.2)(56,0.1)(nan,nan)(56,-0.9)(57,-1.0)(nan,nan)(57,-1.3)(58,-1.4)(59,-1.6)(nan,nan)(58,0.6)(59,0.4)(nan,nan)(60,0.0)(61,-0.1)(nan,nan)(61,-1.6)(62,-1.65)(63,-1.7)(nan,nan)(62,0.7)(63,0.5)(nan,nan)(64,-0.5)(65,-0.6)(nan,nan)(66,-1.8)(67,-2.0)(68,-1.95)(nan,nan)(67,0.0)(68,0.2)(nan,nan)(69,-0.8)(70,-1.0)(nan,nan)(71,-0.2)(72,-0.4)(nan,nan)(73,-1.5)(74,-1.4)(nan,nan)(75,-0.8)(76,-1.0)(nan,nan)(77,-1.2)(78,-1.3)(nan,nan)(78,-2.1)(79,-2.2)(nan,nan)(80,-1.0)(81,-0.9)(nan,nan)(81,-2.2)(82,-2.3)(nan,nan)(83,-1.6)(84,-1.5)(nan,nan)(84,-2.0)(85,-2.1)(nan,nan)(85,-0.55)(87.5,-1.0)(nan,nan)(86,-2.65)(86.5,-2.6)(nan,nan)(87,-1.5)(88,-1.6)};
\addplot[bB,dat] coordinates {(20,1.55)(21,1.55)(nan,nan)(21,0.6)(22,0.5)(nan,nan)(22.5,1.85)(23.5,1.6)(nan,nan)(23,0.0)(24,0.2)(nan,nan)(24,1.0)(25,1.1)(nan,nan)(25,-0.05)(26,-0.2)(nan,nan)(26,1.95)(28,2.95)(nan,nan)(26.5,0.7)(27.5,0.8)(nan,nan)(28,-0.5)(29,-0.4)(nan,nan)(29,1.95)(30,1.3)(nan,nan)(31,0.0)(32,-0.1)(nan,nan)(32,1.6)(33,1.5)(nan,nan)(33,-0.4)(34,-0.3)(nan,nan)(35,0.9)(36,1.0)(nan,nan)(36,0.2)(37,0.1)(nan,nan)(37.5,1.55)(40,1.6)(nan,nan)(38,-0.9)(40,-0.95)(41,-1.15)(nan,nan)(40,0.6)(41,0.5)(nan,nan)(42,-0.2)(43,-0.1)(nan,nan)(43,-1.85)(44,-1.4)(nan,nan)(44.5,-1.75)(46,-1.85)(nan,nan)(45,1.45)(46,1.3)(nan,nan)(46,-0.5)(47,-0.6)(nan,nan)(47,0.3)(48,0.2)(nan,nan)(48,1.5)(49,1.4)(50,1.5)(nan,nan)(50,-0.8)(51,-0.7)(nan,nan)(52,0.1)(53,0.0)(nan,nan)(54,-1.45)(55,-1.3)(nan,nan)(55,-0.3)(56,-0.2)(nan,nan)(57,0.8)(58,0.6)(nan,nan)(58,-0.4)(59,-0.5)(nan,nan)(60,0.3)(61,0.2)(nan,nan)(62,-0.6)(63,-0.5)(nan,nan)(64,0.0)(65,0.1)(nan,nan)(65,0.7)(66,0.5)(nan,nan)(67,-0.3)(68,1.05)(nan,nan)(68,-0.9)(69,-0.8)(nan,nan)(70,-0.5)(71,-0.6)(nan,nan)(71,-1.7)(72,-1.65)(73,-1.9)(nan,nan)(74,-0.9)(75,-1.0)(nan,nan)(75,0.2)(76,0.1)(nan,nan)(77,-1.3)(78,-1.1)(nan,nan)(78.5,0.6)(79.5,-0.4)(nan,nan)(80,-0.9)(81,-1.0)(nan,nan)(81,-1.8)(82,-2.2)};
\addplot[rR,dat] coordinates {(20.5,0.5)(21.5,0.6)(nan,nan)(22,0.3)(23,0.2)(nan,nan)(24,0.9)(25,0.8)(nan,nan)(25.5,-0.2)(26.5,-0.1)(nan,nan)(27,0.6)(28,0.5)(nan,nan)(30,0.3)(31,0.4)(nan,nan)(32,-0.5)(33,-0.4)(nan,nan)(35,0.8)(36,0.9)(nan,nan)(37,0.1)(38,0.0)(nan,nan)(41,0.6)(42,0.5)(nan,nan)(44,0.6)(45,0.5)(nan,nan)(47,0.1)(48,0.0)(nan,nan)(51,0.8)(52,0.7)(nan,nan)(54,0.0)(55,-0.2)(nan,nan)(58,-0.3)(59,-0.2)(nan,nan)(63,-0.6)(64,-0.7)(nan,nan)(70,-1.3)(71,-1.4)};
\addplot[bB,dat] coordinates {(21,1.0)(22,1.1)(nan,nan)(23,0.7)(24,0.6)(nan,nan)(25,0.4)(26,0.5)(nan,nan)(27,1.2)(28,1.0)(nan,nan)(30,0.6)(31,0.7)(nan,nan)(33,0.3)(34,0.2)(nan,nan)(36,0.6)(37,0.5)(nan,nan)(39,-0.3)(40,-0.2)(nan,nan)(42,0.4)(43,0.3)(nan,nan)(44,-0.5)(45,-0.6)(nan,nan)(47,-0.1)(48,-0.2)(nan,nan)(51,0.3)(52,0.4)(nan,nan)(53,-0.5)(54,-0.4)(nan,nan)(56,0.4)(57,0.3)(nan,nan)(60,-0.2)(61,-0.3)(nan,nan)(66,-0.4)(67,-0.5)(nan,nan)(72,-0.8)(73,-0.7)};
\addplot[black,fit] coordinates {(20,0.55)(25,0.53)(30,0.5)(35,0.48)(40,0.45)(45,0.37)(50,0.25)(55,0.09)(60,-0.1)(65,-0.33)(70,-0.6)(75,-0.93)(80,-1.3)(85,-1.75)(90,-2.25)};
\addplot[bB,fit] coordinates {(20,0.75)(30,0.5)(40,0.25)(50,0.0)(60,-0.25)(70,-0.55)(80,-0.85)(90,-1.2)};
\addplot[rR,fit] coordinates {(20,0.35)(25,0.44)(30,0.48)(35,0.5)(40,0.45)(45,0.37)(50,0.25)(55,0.07)(60,-0.15)(65,-0.4)(70,-0.7)(75,-1.05)(80,-1.45)(85,-1.9)(90,-2.4)};
\end{axis}
% ---------- Panel 8 ----------
\begin{axis}[panel, at={(368.3pt,44.6pt)}, title={Occipital Cortex}, xlabel={Age}]
\addplot[rR,dat] coordinates {(21,1.4)(22,1.6)(nan,nan)(21,0.0)(22,-0.3)(nan,nan)(21.5,0.7)(22.5,0.8)(nan,nan)(22,2.2)(23,1.9)(nan,nan)(22.5,-0.4)(23,-0.8)(nan,nan)(23,1.2)(24,1.0)(nan,nan)(24,2.25)(25,2.0)(nan,nan)(24,0.3)(25,0.2)(nan,nan)(25,-0.5)(26,-0.6)(nan,nan)(26,1.5)(27,1.6)(nan,nan)(26.5,0.6)(27.5,0.5)(nan,nan)(28,2.05)(29,1.8)(nan,nan)(28,-0.1)(29,0.0)(nan,nan)(30,1.0)(31,1.1)(nan,nan)(31,-0.3)(32,-0.2)(nan,nan)(32,1.85)(33.5,1.8)(nan,nan)(33,0.5)(34,0.4)(nan,nan)(35,0.0)(36,0.1)(nan,nan)(36,0.8)(37,0.9)(nan,nan)(38,1.0)(39,1.1)(nan,nan)(39,-0.2)(40,-0.1)(nan,nan)(41,0.6)(42,0.5)(nan,nan)(42,-0.9)(43,-0.8)(nan,nan)(43,2.2)(45,1.95)(nan,nan)(44,0.9)(45,0.8)(nan,nan)(46,0.0)(47,0.1)(nan,nan)(47,1.8)(49,1.9)(nan,nan)(48,-0.7)(49,-0.6)(nan,nan)(49,1.1)(50,1.0)(nan,nan)(51,0.3)(52,0.4)(nan,nan)(52,-0.5)(53,-0.4)(nan,nan)(54,-0.9)(55,-1.0)(56,-0.9)(nan,nan)(55,0.5)(56,0.6)(nan,nan)(57,-0.1)(58,-0.2)(nan,nan)(58,0.3)(59,0.2)(nan,nan)(59,-1.0)(60,-1.3)(nan,nan)(61,-0.5)(62,-0.4)(nan,nan)(62,0.5)(63,0.4)(nan,nan)(63,-1.2)(64,-1.1)(nan,nan)(65,-1.7)(66,-1.9)(67,-1.8)(nan,nan)(66,-0.4)(67,-0.3)(nan,nan)(68,-1.2)(69,-1.0)(nan,nan)(70,0.1)(71,-0.1)(nan,nan)(71,-0.8)(72,-0.6)(nan,nan)(72,-1.6)(73,-1.8)(nan,nan)(74,-2.0)(75,-2.2)(nan,nan)(75,-1.1)(76,-1.2)(nan,nan)(77,-0.5)(78,-0.6)(nan,nan)(78,-1.8)(79,-1.7)(nan,nan)(79,-1.2)(80,0.3)(nan,nan)(81,-1.6)(82,-1.8)(nan,nan)(83,-0.4)(85,-0.6)(87,-1.2)(nan,nan)(84,-2.1)(85,-2.2)(nan,nan)(86,-2.4)(86.5,-2.5)(nan,nan)(88,-1.3)(88.5,-1.4)};
\addplot[bB,dat] coordinates {(20,0.65)(21,0.7)(nan,nan)(22,1.2)(23,1.1)(nan,nan)(23,1.7)(24,1.8)(25,2.0)(nan,nan)(24,0.4)(25,0.2)(nan,nan)(25,-0.1)(26,0.0)(nan,nan)(26,2.0)(27,1.7)(nan,nan)(27,0.8)(28,0.9)(nan,nan)(28,1.1)(29,1.0)(nan,nan)(29,1.9)(30,1.6)(nan,nan)(30,-0.3)(31,-0.2)(nan,nan)(31,0.7)(32,0.6)(nan,nan)(33,1.5)(34,1.6)(nan,nan)(34,0.2)(35,0.3)(nan,nan)(37,1.35)(39,1.7)(nan,nan)(38,0.6)(39,0.5)(nan,nan)(40,-1.5)(41,-1.5)(nan,nan)(40,0.9)(41,1.0)(nan,nan)(42,0.3)(43,0.2)(nan,nan)(43,-0.5)(44,-0.4)(nan,nan)(44,-1.15)(45,-1.0)(46,-1.1)(nan,nan)(45,0.6)(46,0.5)(nan,nan)(47,0.9)(48,0.8)(nan,nan)(47,-0.2)(48,-0.4)(nan,nan)(49,-0.8)(50,-0.7)(nan,nan)(50,0.2)(51,0.3)(nan,nan)(52,-0.3)(53,-0.1)(nan,nan)(54,0.5)(55,0.7)(nan,nan)(56,-0.6)(57,-0.4)(nan,nan)(58,0.3)(59,0.5)(nan,nan)(60,-0.4)(61,-0.6)(nan,nan)(62,0.0)(63,-0.1)(nan,nan)(64,-0.9)(65,-1.0)(nan,nan)(65,1.0)(67,0.7)(68,1.05)(nan,nan)(66,-0.2)(67,-0.4)(nan,nan)(68,-1.2)(69,-2.0)(nan,nan)(70,-0.5)(71,-0.7)(nan,nan)(72,-2.3)(73,-2.75)(nan,nan)(72,-1.0)(73,-0.9)(nan,nan)(74,-0.6)(75,-0.2)(nan,nan)(76,-0.4)(77,-0.5)(nan,nan)(78,-1.2)(79,-1.0)(nan,nan)(80,-0.6)(80.5,-0.5)(nan,nan)(81,-1.0)(81.5,-2.4)};
\addplot[rR,dat] coordinates {(20.5,1.0)(21.5,0.9)(nan,nan)(22,0.4)(23,0.5)(nan,nan)(23.5,1.6)(24.5,1.5)(nan,nan)(25,0.8)(26,0.9)(nan,nan)(27,-0.2)(28,-0.3)(nan,nan)(29,1.3)(30,1.2)(nan,nan)(32,0.3)(33,0.2)(nan,nan)(34,1.0)(35,0.9)(nan,nan)(37,0.4)(38,0.5)(nan,nan)(40,0.8)(41,0.9)(nan,nan)(44,0.2)(45,0.3)(nan,nan)(47,0.5)(48,0.4)(nan,nan)(50,-0.2)(51,-0.3)(nan,nan)(53,0.1)(54,0.0)(nan,nan)(57,-0.6)(58,-0.7)(nan,nan)(61,0.0)(62,-0.1)(nan,nan)(69,-1.5)(70,-1.4)};
\addplot[bB,dat] coordinates {(21,1.4)(22,1.5)(nan,nan)(22.5,0.7)(23.5,0.8)(nan,nan)(24,1.3)(25,1.2)(nan,nan)(26,0.5)(27,0.4)(nan,nan)(28,1.6)(29,1.5)(nan,nan)(31,1.2)(32,1.3)(nan,nan)(33,0.9)(34,0.8)(nan,nan)(36,0.5)(37,0.6)(nan,nan)(39,0.2)(40,0.3)(nan,nan)(42,0.7)(43,0.8)(nan,nan)(45,0.1)(46,0.2)(nan,nan)(48,0.4)(49,0.2)(nan,nan)(51,-0.5)(52,-0.3)(nan,nan)(55,0.2)(56,0.1)(nan,nan)(58,-0.2)(59,-0.3)(nan,nan)(63,-0.5)(64,-0.6)(nan,nan)(69,-0.4)(70,-0.2)};
\addplot[black,fit] coordinates {(20,0.72)(30,0.63)(40,0.44)(50,0.14)(60,-0.3)(70,-0.85)(80,-1.45)(90,-2.15)};
\addplot[bB,fit] coordinates {(20,0.95)(30,0.75)(40,0.45)(50,0.1)(60,-0.3)(70,-0.7)(80,-1.0)(90,-1.3)};
\addplot[rR,fit] coordinates {(20,0.75)(25,0.72)(30,0.65)(35,0.56)(40,0.45)(45,0.31)(50,0.15)(55,-0.06)(60,-0.3)(65,-0.56)(70,-0.85)(75,-1.15)(80,-1.45)(85,-1.8)(90,-2.2)};
\end{axis}
\node[font=\fontsize{15}{17}\selectfont, text=black!85] at (321.5pt,14pt) {Figure 2b};
\end{tikzpicture}
\end{document}
